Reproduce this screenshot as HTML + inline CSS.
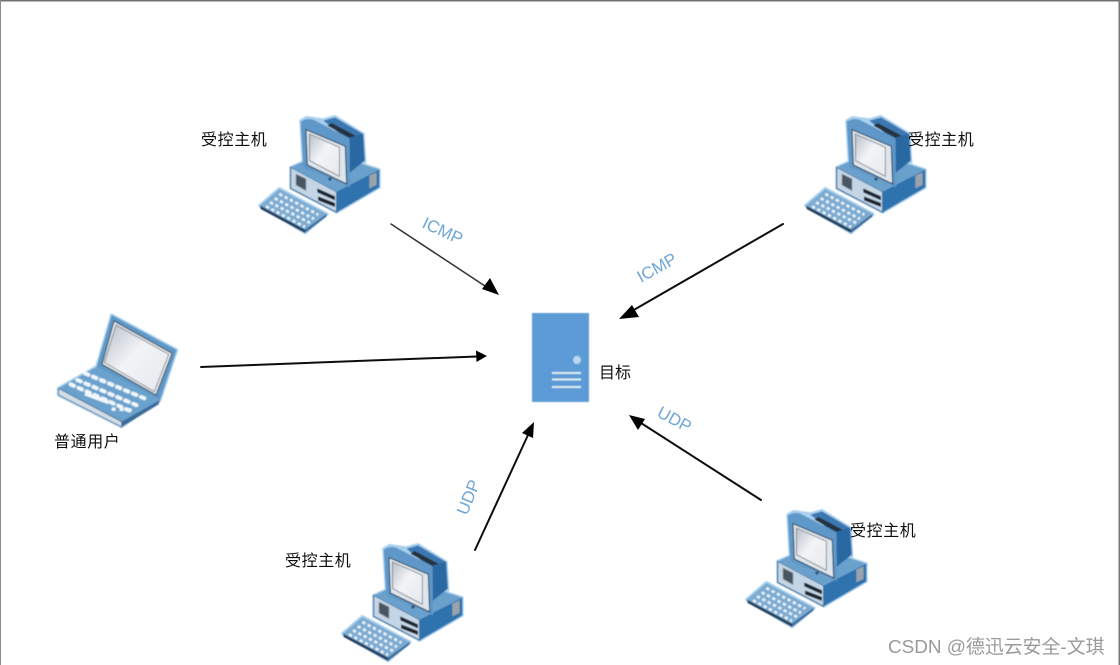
<!DOCTYPE html>
<html><head><meta charset="utf-8"><style>
html,body{margin:0;padding:0;background:#fff;width:1120px;height:665px;overflow:hidden}
svg{display:block}
text{font-family:"Liberation Sans","Noto Sans CJK SC",sans-serif}
.l{font-size:16px;fill:#111;letter-spacing:.6px}
.b{font-size:17px;fill:#6fa6d8}
</style></head><body>
<svg width="1120" height="665" viewBox="0 0 1120 665" xmlns="http://www.w3.org/2000/svg">
<defs>
<filter id="s" x="-10%" y="-10%" width="120%" height="120%"><feGaussianBlur stdDeviation="0.6"/></filter>
<filter id="t" x="-10%" y="-30%" width="120%" height="160%"><feGaussianBlur stdDeviation="0.3"/></filter>
<linearGradient id="scr" x1="0" y1="0" x2="1" y2="1"><stop offset="0" stop-color="#b9c0ca"/><stop offset=".45" stop-color="#f3f4f7"/><stop offset="1" stop-color="#e6e8ec"/></linearGradient>
<g id="pc" transform="scale(.3333)">
<g stroke="#a9d0ee" stroke-width="8" stroke-linejoin="round" fill="#a9d0ee">
<path d="M152 205L190 188 335 185 418 212 418 265 290 340 152 268Z"/>
<path d="M182 65L200 55 250 62 285 52 370 105 375 190 328 262 190 205Z"/>
<path d="M58 320L118 268 262 345 195 402Z"/>
</g>
<path d="M152 205L290 278 290 340 152 268Z" fill="#c4d6e6" stroke="#2c5a86" stroke-width="3"/>
<path d="M152 205L190 188 335 185 418 212 290 278Z" fill="#6ba0cc"/>
<path d="M290 278L418 212 418 265 290 340Z" fill="#2f72ae"/>
<path d="M388 230L410 220 410 258 388 268Z" fill="#9aa3ab"/>
<path d="M168 225L198 240 198 275 168 258Z" fill="#4a5560" stroke="#8c99a5" stroke-width="2"/>
<path d="M232 268L285 292 285 304 232 280Z" fill="#1c2630"/>
<path d="M234 292L285 312 285 324 234 304Z" fill="#1c2630"/>
<path d="M250 65L285 55 370 105 375 185 325 225 325 125Z" fill="#3a78b2"/>
<path d="M275 72L350 112 335 120 262 80Z" fill="#28323c"/>
<path d="M330 115L368 105 372 185 330 220Z" fill="#2a68a2"/>
<path d="M182 68Q200 56 220 62L328 118 330 265 300 250 190 205Z" fill="#5f97c8"/>
<path d="M198 92L316 142 320 255 202 198Z" fill="#dfe5ec" stroke="#26384c" stroke-width="3"/>
<path d="M208 105L298 145 298 232 209 185Z" fill="url(#scr)" stroke="#4a545e" stroke-width="2"/>
<circle cx="270" cy="240" r="5" fill="#33516e"/>
<path d="M60 320L118 270 260 345 195 400Z" fill="#7cabd2"/>
<path d="M60 320L195 392 195 402 62 330Z" fill="#25405c"/>
<path d="M195 392L260 345 260 352 195 402Z" fill="#3b6c9a"/>
<g stroke="#e9f1f8" stroke-width="8" stroke-dasharray="10 8" fill="none">
<path d="M118 285L235 347"/><path d="M104 298L222 360"/><path d="M90 310L210 372"/><path d="M78 322L195 384"/>
</g>
</g>
</defs>

<rect width="1120" height="665" fill="#fff"/>
<rect x="0" y="0" width="1120" height="1.500" fill="#707070"/>
<rect x="0" y="0" width="1" height="665" fill="#8a8a8a"/>
<rect x="1118.500" y="0" width="1.500" height="665" fill="#777"/>

<g filter="url(#s)">
<use href="#pc" transform="translate(240,99)"/>
<use href="#pc" transform="translate(786,99)"/>
<use href="#pc" transform="translate(323,527)"/>
<use href="#pc" transform="translate(727,493)"/>

<g transform="translate(40,305) scale(.3333)">
<path d="M55 250L170 185 215 30 410 135 360 285 245 365 55 270Z" fill="#a9d0ee" stroke="#a9d0ee" stroke-width="9" stroke-linejoin="round"/>
<path d="M170 185L215 30 410 135 360 285Z" fill="#5f97c6"/>
<path d="M186 178L222 48 396 145 348 270Z" fill="#e7ebf0" stroke="#3d4b58" stroke-width="3"/>
<path d="M193 172L228 60 386 148 343 260Z" fill="url(#scr)" stroke="#5d6873" stroke-width="2"/>
<path d="M55 250L170 185 360 285 245 350Z" fill="#6ba1cd"/>
<path d="M55 250L245 350 245 366 56 270Z" fill="#d4dce4" stroke="#2c5a86" stroke-width="2"/>
<path d="M245 350L360 285 356 298 245 366Z" fill="#3b6c9a"/>
<g stroke="#f0f6fb" stroke-width="12" stroke-linecap="round" stroke-dasharray="11 15" fill="none">
<path d="M135 205L325 285"/><path d="M112 225L300 305"/><path d="M92 238L280 322"/>
</g>
<path d="M135 266L205 292" stroke="#f3f8fc" stroke-width="11"/>
<path d="M215 312L275 315" stroke="#f0f6fb" stroke-width="10" stroke-dasharray="12 12"/>
</g>

<rect x="532" y="313" width="57" height="89" fill="#5b9bd5"/>
<circle cx="577" cy="360" r="4" fill="#bcd6ee"/>
<path d="M552 373H581M552 379.500H581M552 387H581" stroke="#dbe9f6" stroke-width="2" fill="none"/>
</g>

<g filter="url(#t)" stroke-linecap="round">
<path d="M391 224L488 288" stroke="#333" stroke-width="1.500"/>
<path d="M499 295L482 289 490 278Z" fill="#000"/>
<path d="M783 224L632 311" stroke="#111" stroke-width="2"/>
<path d="M619 319L632 305 639 317Z" fill="#000"/>
<path d="M201 367L477 356.500" stroke="#111" stroke-width="2"/>
<path d="M487 356L476 350.500 476.500 362Z" fill="#000"/>
<path d="M475 550L528 435" stroke="#111" stroke-width="2"/>
<path d="M534 422L533 438 522 433Z" fill="#000"/>
<path d="M761 500L641 423" stroke="#111" stroke-width="2"/>
<path d="M629 415L645 419 638 430Z" fill="#000"/>

<text class="l" x="201" y="145">受控主机</text>
<text class="l" x="908" y="145">受控主机</text>
<text class="l" x="285" y="566">受控主机</text>
<text class="l" x="850" y="536">受控主机</text>
<text class="l" x="54" y="447">普通用户</text>
<text class="l" x="599" y="378" style="letter-spacing:0">目标</text>

<text class="b" transform="translate(421,227) rotate(25)">ICMP</text>
<text class="b" transform="translate(641,283) rotate(-29)">ICMP</text>
<text class="b" transform="translate(467,516) rotate(-68)">UDP</text>
<text class="b" transform="translate(656,416) rotate(28)">UDP</text>
<text x="888" y="653" style="font-size:18.900px;fill:#9a9a9a">CSDN @德迅云安全-文琪</text>
</g>
</svg>
</body></html>
